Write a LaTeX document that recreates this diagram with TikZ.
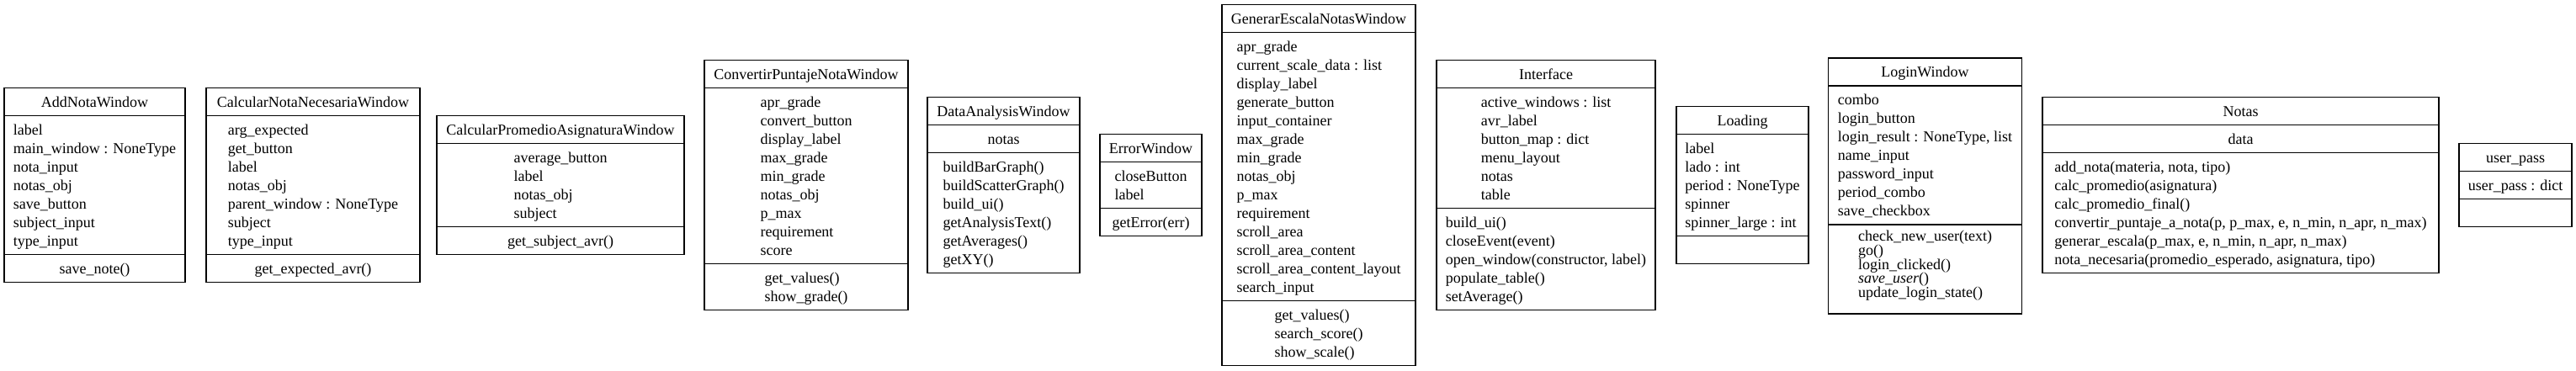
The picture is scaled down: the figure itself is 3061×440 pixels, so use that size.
\documentclass[tikz,border=0pt]{standalone}
\usepackage{fontspec}
\setmainfont{Liberation Serif}
\usetikzlibrary{fit}
\newcommand\umlfont{\fontsize{9}{11}\selectfont\lineskiplimit=-\maxdimen\lineskip=0pt\relax}
\newcommand\loginfont{\fontsize{9}{8.35}\selectfont\lineskiplimit=-\maxdimen\lineskip=0pt\relax}
\newcommand\fs{\rule{0pt}{9pt}}
\tikzset{
  fieldbox/.style={draw=black, line width=0.7pt, inner sep=0pt, outer sep=0pt},
  fieldtext/.style={anchor=north, inner sep=0pt, outer sep=0pt, align=left, font=\umlfont, text=black},
}
\newcommand\umlclass[8]{%
  \pgfmathsetmacro\clsA{220-(55+22*(#4+#5))/2}%
  \pgfmathsetmacro\clsB{\clsA+33}%
  \pgfmathsetmacro\clsC{\clsB+11+22*#4}%
  \pgfmathsetmacro\clsD{\clsC+11+22*#5}%
  \pgfmathsetmacro\clsM{(#2+#3)/2}%
  \node[fieldbox, fit={(#2,\clsA)(#3,\clsB)}] (#1-head) {};
  \node[fieldbox, fit={(#2,\clsB)(#3,\clsC)}] (#1-attr) {};
  \node[fieldbox, fit={(#2,\clsC)(#3,\clsD)}] (#1-meth) {};
  \node[fieldtext] (#1-name) at (\clsM,\clsA+4.5) {\fs#6};
  \node[fieldtext] (#1-attrs) at (\clsM,\clsB+4.5) {\fs#7};
  \node[fieldtext] (#1-meths) at (\clsM,\clsC+4.5) {\fs#8};
}
\begin{document}
\begin{tikzpicture}[x=0.5pt, y=-0.5pt]
\fill[white] (0,0) rectangle (3061,440);
\useasboundingbox (0,0) rectangle (3061,440);

\umlclass{AddNota}{5}{220}{7}{1}{AddNotaWindow}{label\\main\_window : NoneType\\nota\_input\\notas\_obj\\save\_button\\subject\_input\\type\_input}{save\_note()}

\umlclass{CalcNec}{245}{499}{7}{1}{CalcularNotaNecesariaWindow}{arg\_expected\\get\_button\\label\\notas\_obj\\parent\_window : NoneType\\subject\\type\_input}{get\_expected\_avr()}

\umlclass{CalcProm}{519}{813}{4}{1}{CalcularPromedioAsignaturaWindow}{average\_button\\label\\notas\_obj\\subject}{get\_subject\_avr()}

\umlclass{Convertir}{837}{1079}{9}{2}{ConvertirPuntajeNotaWindow}{apr\_grade\\convert\_button\\display\_label\\max\_grade\\min\_grade\\notas\_obj\\p\_max\\requirement\\score}{get\_values()\\show\_grade()}

\umlclass{DataAnalysis}{1102}{1283}{1}{6}{DataAnalysisWindow}{notas}{buildBarGraph()\\buildScatterGraph()\\build\_ui()\\getAnalysisText()\\getAverages()\\getXY()}

\umlclass{ErrorWin}{1307}{1428}{2}{1}{ErrorWindow}{closeButton\\label}{getError(err)}

\umlclass{Generar}{1452}{1682}{14}{3}{GenerarEscalaNotasWindow}{apr\_grade\\current\_scale\_data : list\\display\_label\\generate\_button\\input\_container\\max\_grade\\min\_grade\\notas\_obj\\p\_max\\requirement\\scroll\_area\\scroll\_area\_content\\scroll\_area\_content\_layout\\search\_input}{get\_values()\\search\_score()\\show\_scale()}

\umlclass{Interface}{1707}{1967}{6}{5}{Interface}{active\_windows : list\\avr\_label\\button\_map : dict\\menu\_layout\\notas\\table}{build\_ui()\\closeEvent(event)\\open\_window(constructor, label)\\populate\_table()\\setAverage()}

\umlclass{Loading}{1992}{2149}{5}{1}{Loading}{label\\lado : int\\period : NoneType\\spinner\\spinner\_large : int}{}

% LoginWindow (tighter method spacing)
\node[fieldbox, fit={(2172.5,69)(2402.5,102)}] (Login-head) {};
\node[fieldbox, fit={(2172.5,102)(2402.5,267)}] (Login-attr) {};
\node[fieldbox, fit={(2172.5,267)(2402.5,373)}] (Login-meth) {};
\node[fieldtext] (Login-name) at (2287.5,73.5) {\fs LoginWindow};
\node[fieldtext] (Login-attrs) at (2287.5,106.5) {\fs combo\\login\_button\\login\_result : NoneType, list\\name\_input\\password\_input\\period\_combo\\save\_checkbox};
\node[fieldtext, font=\loginfont] (Login-meths) at (2287.5,268.6) {\fs check\_new\_user(text)\\go()\\login\_clicked()\\\textit{save\_user}()\\update\_login\_state()};

\umlclass{Notas}{2427}{2898}{1}{6}{Notas}{data}{add\_nota(materia, nota, tipo)\\calc\_promedio(asignatura)\\calc\_promedio\_final()\\convertir\_puntaje\_a\_nota(p, p\_max, e, n\_min, n\_apr, n\_max)\\generar\_escala(p\_max, e, n\_min, n\_apr, n\_max)\\nota\_necesaria(promedio\_esperado, asignatura, tipo)}

\umlclass{UserPass}{2922}{3056}{1}{1}{user\_pass}{user\_pass : dict}{}
\end{tikzpicture}
\end{document}
